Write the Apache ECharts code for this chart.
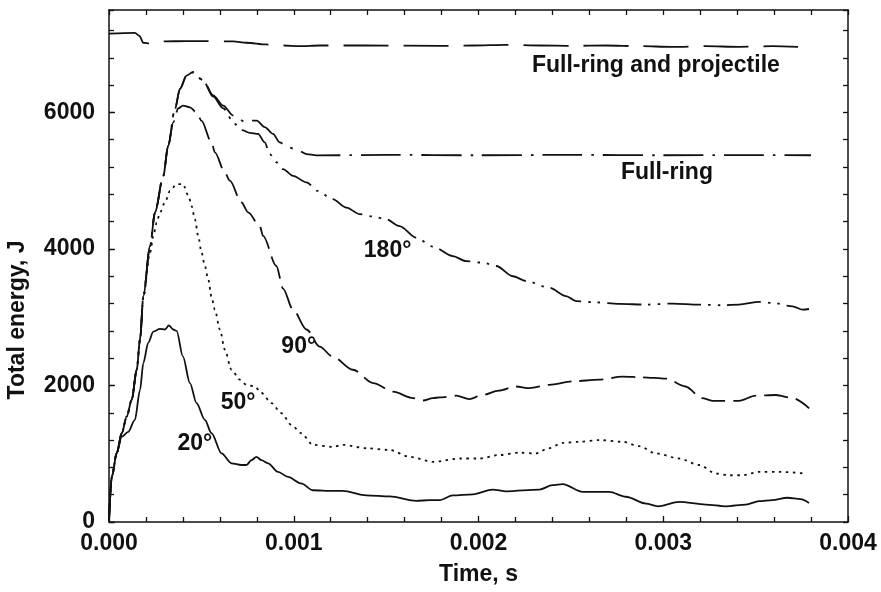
<!DOCTYPE html>
<html>
<head>
<meta charset="utf-8">
<title>Total energy vs time</title>
<script src="https://cdn.jsdelivr.net/npm/echarts@6/dist/echarts.min.js"></script>
<style>
  html, body { margin: 0; padding: 0; background: #fff; }
  #chart { width: 881px; height: 592px; }
</style>
</head>
<body>
<div id="chart"></div>
<script>
// time in ms, energy in J
const timeProj = [0, 0.14, 0.165, 0.186, 0.222, 0.294, 0.42, 0.528, 0.672, 0.744, 0.85, 0.942, 1.03, 1.14, 1.39, 1.79, 1.97, 2.15, 2.33, 2.51, 2.69, 2.87, 3.05, 3.23, 3.41, 3.59, 3.73]
const energyProj = [7155, 7165, 7120, 7020, 7010, 7040, 7045, 7045, 7040, 7020, 6995, 6980, 6970, 6980, 6980, 6975, 6980, 6990, 6980, 6975, 6980, 6970, 6960, 6970, 6960, 6970, 6960]

const timeRing = [0, 0.015, 0.042, 0.069, 0.096, 0.123, 0.15, 0.168, 0.186, 0.222, 0.249, 0.294, 0.32, 0.357, 0.384, 0.42, 0.456, 0.51, 0.564, 0.618, 0.672, 0.735, 0.762, 0.8, 0.843, 0.888, 0.924, 0.969, 1.015, 1.069, 1.123, 1.5, 2.0, 2.5, 3.0, 3.5, 3.8]
const energyRing = [25, 660, 1010, 1300, 1545, 1790, 2230, 2670, 3310, 4040, 4535, 5070, 5510, 6050, 6345, 6540, 6595, 6470, 6250, 6100, 5955, 5865, 5880, 5880, 5785, 5685, 5560, 5490, 5455, 5390, 5370, 5378, 5372, 5378, 5372, 5375, 5372]

const time180 = [0, 0.015, 0.042, 0.069, 0.096, 0.123, 0.15, 0.168, 0.186, 0.222, 0.249, 0.294, 0.32, 0.357, 0.384, 0.42, 0.456, 0.51, 0.564, 0.618, 0.68, 0.72, 0.762, 0.807, 0.843, 0.87, 0.906, 0.942, 0.996, 1.069, 1.13, 1.21, 1.285, 1.357, 1.43, 1.5, 1.573, 1.663, 1.753, 1.861, 1.933, 2.02, 2.096, 2.186, 2.258, 2.384, 2.474, 2.528, 2.618, 2.762, 2.906, 3.05, 3.195, 3.32, 3.41, 3.52, 3.59, 3.7, 3.754, 3.789]
const energy180 = [25, 660, 1010, 1300, 1545, 1790, 2230, 2670, 3310, 4040, 4535, 5070, 5510, 6050, 6345, 6540, 6585, 6460, 6230, 6060, 5830, 5740, 5700, 5685, 5560, 5390, 5270, 5170, 5070, 4975, 4850, 4730, 4605, 4510, 4475, 4435, 4335, 4165, 4035, 3895, 3820, 3800, 3750, 3600, 3530, 3430, 3310, 3235, 3220, 3195, 3185, 3200, 3185, 3175, 3185, 3225, 3210, 3160, 3110, 3120]

const time90 = [0, 0.015, 0.042, 0.069, 0.096, 0.123, 0.15, 0.168, 0.186, 0.222, 0.249, 0.294, 0.32, 0.348, 0.375, 0.4, 0.438, 0.474, 0.5, 0.555, 0.573, 0.627, 0.654, 0.717, 0.753, 0.816, 0.834, 0.906, 0.942, 0.996, 1.069, 1.14, 1.21, 1.32, 1.43, 1.537, 1.645, 1.7, 1.753, 1.79, 1.88, 1.95, 2.02, 2.11, 2.2, 2.276, 2.384, 2.51, 2.654, 2.78, 2.888, 3.015, 3.12, 3.21, 3.266, 3.41, 3.5, 3.61, 3.7, 3.79]
const energy90 = [25, 660, 1010, 1300, 1545, 1790, 2230, 2670, 3310, 4040, 4535, 5070, 5510, 5855, 6060, 6100, 6075, 6000, 5880, 5560, 5415, 5120, 5000, 4680, 4535, 4335, 4190, 3750, 3420, 3110, 2820, 2570, 2425, 2230, 2035, 1910, 1815, 1780, 1815, 1825, 1850, 1800, 1860, 1925, 1985, 1960, 2010, 2060, 2085, 2130, 2120, 2100, 1985, 1815, 1775, 1775, 1850, 1860, 1815, 1665]

const time50 = [0, 0.015, 0.042, 0.069, 0.096, 0.123, 0.15, 0.168, 0.186, 0.222, 0.24, 0.258, 0.276, 0.303, 0.33, 0.366, 0.4, 0.43, 0.447, 0.465, 0.483, 0.501, 0.519, 0.537, 0.555, 0.573, 0.6, 0.627, 0.663, 0.708, 0.744, 0.789, 0.825, 0.88, 0.933, 0.988, 1.04, 1.104, 1.21, 1.266, 1.393, 1.519, 1.627, 1.753, 1.897, 2.005, 2.11, 2.22, 2.31, 2.38, 2.456, 2.546, 2.654, 2.78, 2.87, 2.96, 3.086, 3.195, 3.285, 3.357, 3.43, 3.519, 3.627, 3.77]
const energy50 = [25, 660, 1010, 1300, 1545, 1790, 2230, 2670, 3310, 3945, 4190, 4385, 4535, 4680, 4850, 4950, 4950, 4780, 4630, 4435, 4190, 3945, 3750, 3555, 3300, 3110, 2820, 2525, 2230, 2085, 2010, 1985, 1890, 1740, 1595, 1420, 1300, 1130, 1100, 1130, 1080, 1055, 955, 880, 930, 930, 980, 1015, 1005, 1080, 1160, 1175, 1200, 1175, 1110, 1005, 930, 835, 710, 685, 685, 735, 735, 710]

const time20 = [0, 0.015, 0.042, 0.069, 0.104, 0.14, 0.168, 0.186, 0.212, 0.24, 0.276, 0.303, 0.324, 0.348, 0.366, 0.4, 0.438, 0.474, 0.519, 0.555, 0.609, 0.663, 0.717, 0.744, 0.771, 0.798, 0.825, 0.861, 0.915, 0.969, 1.04, 1.104, 1.21, 1.265, 1.393, 1.519, 1.663, 1.735, 1.79, 1.861, 1.97, 2.077, 2.15, 2.33, 2.4, 2.456, 2.564, 2.708, 2.798, 2.906, 2.97, 3.086, 3.23, 3.34, 3.447, 3.519, 3.59, 3.672, 3.744, 3.789]
const energy20 = [25, 660, 1010, 1250, 1320, 1495, 1935, 2330, 2625, 2790, 2830, 2820, 2880, 2820, 2800, 2425, 2035, 1740, 1495, 1300, 1005, 860, 835, 835, 905, 955, 905, 860, 735, 660, 565, 465, 455, 455, 390, 375, 310, 320, 320, 390, 405, 475, 450, 475, 540, 555, 440, 440, 370, 270, 230, 295, 255, 230, 255, 305, 320, 355, 335, 280]

// curve labels, placed in data units
const labelText = ['Full-ring and projectile', 'Full-ring', '180°', '90°', '50°', '20°']
const labelTime = [2.96, 3.02, 1.508, 1.027, 0.699, 0.465]
const labelEnergy = [6687, 5113, 3978, 2574, 1753, 1143]

const xTicks = [0, 1, 2, 3, 4]   // ms, shown as seconds

const ink = '#111'
const font = 'Liberation Sans'
const textFont = 'bold 23px "Liberation Sans"'

function pairs(t, v) {
    return t.map((x, i) => [x, v[i]])
}

function curve(name, t, v, dash) {
    return {
        name: name,
        type: 'line',
        showSymbol: false,
        symbol: 'none',
        smooth: 0.3,
        smoothMonotone: 'x',
        lineStyle: { color: ink, width: 1.8, type: dash },
        data: pairs(t, v)
    }
}

let chart = echarts.init(document.getElementById('chart'), null, { renderer: 'canvas' })

let tickStyle = { color: ink, width: 1.3 }
let option = {
    animation: false,
    backgroundColor: '#fff',
    grid: { left: 109, right: 33, top: 10, bottom: 70, containLabel: false },
    xAxis: [
        {
            type: 'value',
            position: 'bottom',
            min: xTicks[0],
            max: xTicks[xTicks.length - 1],
            interval: 1,
            axisLine: { lineStyle: { color: ink, width: 1.5 } },
            axisTick: { inside: true, length: 6, lineStyle: tickStyle },
            minorTick: { show: true, splitNumber: 5, length: 5, lineStyle: tickStyle },
            splitLine: { show: false },
            axisLabel: {
                margin: 10,
                color: ink,
                fontFamily: font,
                fontWeight: 'bold',
                fontSize: 23,
                formatter: v => (v / 1000).toFixed(3)
            },
            name: 'Time, s',
            nameLocation: 'middle',
            nameGap: 41,
            nameTextStyle: { color: ink, fontFamily: font, fontWeight: 'bold', fontSize: 23 }
        },
        {
            type: 'value',
            position: 'top',
            min: 0,
            max: 4,
            interval: 0.2,
            axisLine: { show: true, onZero: false, lineStyle: { color: ink, width: 1.5 } },
            axisTick: { inside: true, length: 5, lineStyle: tickStyle },
            axisLabel: { show: false },
            splitLine: { show: false }
        }
    ],
    yAxis: [
        {
            type: 'value',
            position: 'left',
            min: 0,
            max: 7500,
            interval: 2000,
            axisLine: { show: true, lineStyle: { color: ink, width: 1.5 } },
            axisTick: { show: true, inside: true, length: 6, lineStyle: tickStyle },
            splitLine: { show: false },
            axisLabel: {
                margin: 14,
                showMaxLabel: false,
                color: ink,
                fontFamily: font,
                fontWeight: 'bold',
                fontSize: 23,
                formatter: v => String(v)
            }
        },
        {
            type: 'value',
            position: 'left',
            min: 0,
            max: 7500,
            interval: 400,
            axisLine: { show: false },
            axisTick: { show: true, inside: true, length: 5, lineStyle: tickStyle },
            axisLabel: { show: false },
            splitLine: { show: false }
        },
        {
            type: 'value',
            position: 'right',
            min: 0,
            max: 7500,
            interval: 400,
            axisLine: { show: true, onZero: false, lineStyle: { color: ink, width: 1.5 } },
            axisTick: { show: true, inside: true, length: 5, lineStyle: tickStyle },
            axisLabel: { show: false },
            splitLine: { show: false }
        }
    ],
    series: [
        curve('Full-ring and projectile', timeProj, energyProj, [45, 15]),
        curve('Full-ring', timeRing, energyRing, [40, 9, 2.5, 9]),
        curve('180°', time180, energy180, [34, 7, 2.5, 7, 2.5, 7]),
        curve('90°', time90, energy90, [24, 8]),
        curve('50°', time50, energy50, [2.5, 4.5]),
        curve('20°', time20, energy20, 'solid')
    ]
}
chart.setOption(option)

// text annotations: positions come from the axes' own scales
let notes = labelText.map((s, i) => {
    let p = chart.convertToPixel({ xAxisIndex: 0, yAxisIndex: 0 }, [labelTime[i], labelEnergy[i]])
    return {
        type: 'text',
        x: p[0],
        y: p[1],
        style: { text: s, fill: ink, font: textFont, textAlign: 'center', textVerticalAlign: 'middle' }
    }
})
notes.push({
    type: 'text',
    x: 18,
    y: 320,
    rotation: Math.PI / 2,
    style: { text: 'Total energy, J', fill: ink, font: textFont, textAlign: 'center', textVerticalAlign: 'middle' }
})
chart.setOption({ graphic: notes })
</script>
</body>
</html>
